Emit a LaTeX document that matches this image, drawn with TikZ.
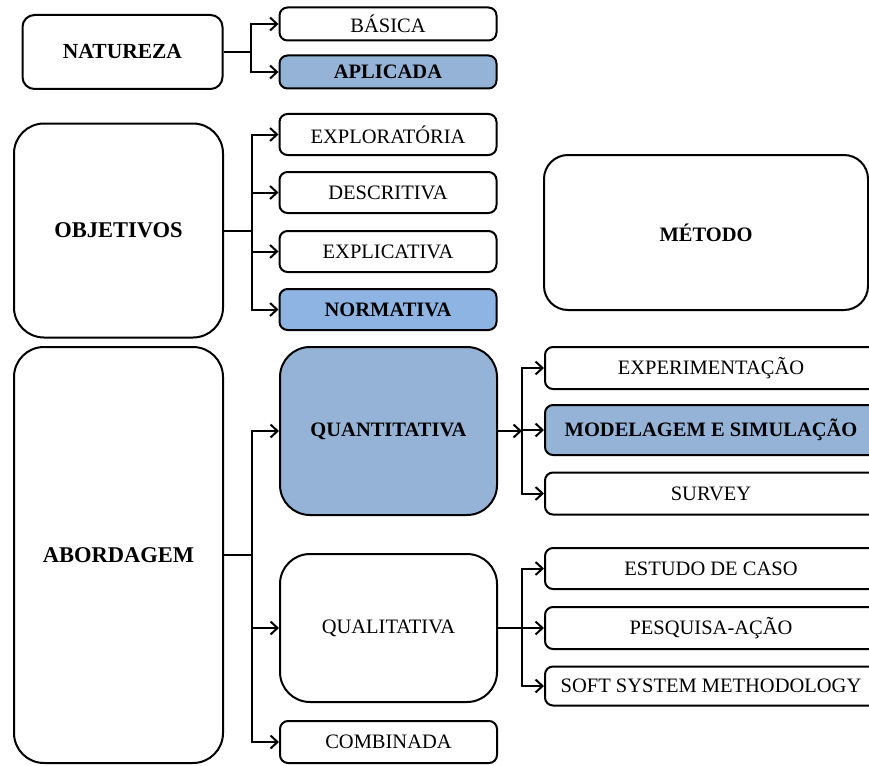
\documentclass[tikz,border=0pt]{standalone}
\usepackage{fontspec}
\setmainfont{Liberation Serif}
\usetikzlibrary{arrows.meta}
\definecolor{selblue}{RGB}{149,179,215}
\definecolor{normblue}{RGB}{141,180,226}
\tikzset{
  box/.style={draw=black, line width=2pt, rounded corners=8pt, fill=white,
    inner sep=0pt, align=center, text=black,
    font=\fontsize{20.5}{24}\selectfont},
  bigbox/.style={box, rounded corners=30pt},
  hot/.style={fill=selblue, font=\fontsize{20.5}{24}\selectfont\bfseries},
  link/.style={line width=2pt, draw=black},
  arr/.style={link, -{Straight Barb[length=7pt,width=13pt]}},
}
\begin{document}
\begin{tikzpicture}[x=1pt, y=-1pt]
\useasboundingbox (0,0) rectangle (869,765);

% Natureza
\node[box, rounded corners=12pt, minimum width=200pt, minimum height=74pt,
      font=\fontsize{21.5}{24}\selectfont\bfseries] (natureza) at (122.5,52) {NATUREZA};
\node[box, minimum width=217pt, minimum height=33pt] (basica) at (388,24) {BÁSICA};
\node[box, hot, minimum width=217pt, minimum height=33pt] (aplicada) at (388,72) {APLICADA};

% Objetivos
\node[bigbox, minimum width=209pt, minimum height=214pt,
      font=\fontsize{22.5}{24}\selectfont\bfseries] (objetivos) at (118.5,230.5) {OBJETIVOS};
\node[box, minimum width=217pt, minimum height=41pt] (explor) at (388,134.5) {EXPLORATÓRIA};
\node[box, minimum width=217pt, minimum height=41pt] (descr) at (388,192.5) {DESCRITIVA};
\node[box, minimum width=217pt, minimum height=41pt] (explic) at (388,251.5) {EXPLICATIVA};
\node[box, hot, fill=normblue, minimum width=217pt, minimum height=41pt] (normat) at (388,309.5) {NORMATIVA};

% Metodo
\node[box, rounded corners=24pt, minimum width=324pt, minimum height=155pt,
      font=\fontsize{20.5}{24}\selectfont\bfseries] (metodo) at (706,232.5) {MÉTODO};

% Abordagem
\node[bigbox, minimum width=209pt, minimum height=416pt,
      font=\fontsize{22.5}{24}\selectfont\bfseries] (abordagem) at (118.5,555) {ABORDAGEM};
\node[bigbox, hot, minimum width=217pt, minimum height=168pt] (quant) at (388.5,431) {QUANTITATIVA};
\node[bigbox, minimum width=217pt, minimum height=148pt] (qual) at (388.5,628) {QUALITATIVA};
\node[box, minimum width=217pt, minimum height=42pt] (comb) at (388.5,742) {COMBINADA};

% Quantitative methods (boxes run past the right edge)
\node[box, minimum width=340pt, minimum height=42pt] (experim) at (715,368) {};
\node[box, hot, minimum width=340pt, minimum height=50pt] (modsim) at (715,430) {};
\node[box, minimum width=340pt, minimum height=42pt] (survey) at (715,493.5) {};
\node[font=\fontsize{20.5}{24}\selectfont] at (711,368) {EXPERIMENTAÇÃO};
\node[font=\fontsize{20.5}{24}\selectfont\bfseries] at (711,430) {MODELAGEM E SIMULAÇÃO};
\node[font=\fontsize{20.5}{24}\selectfont] at (711,493.5) {SURVEY};

% Qualitative methods
\node[box, minimum width=340pt, minimum height=41pt] (estudo) at (715,568.5) {};
\node[box, minimum width=340pt, minimum height=42pt] (pesquisa) at (715,628) {};
\node[box, minimum width=340pt, minimum height=39pt] (soft) at (715,686) {};
\node[font=\fontsize{20.5}{24}\selectfont] at (711,568.5) {ESTUDO DE CASO};
\node[font=\fontsize{20.5}{24}\selectfont] at (711,628) {PESQUISA-AÇÃO};
\node[font=\fontsize{20.5}{24}\selectfont] at (711,686) {SOFT SYSTEM METHODOLOGY};

% Connectors
\coordinate (natbus) at (251,52);
\draw[link] (natureza.east) -- (natbus);
\draw[arr] (natbus) |- (basica.west);
\draw[arr] (natbus) |- (aplicada.west);

\coordinate (objbus) at (252,230.5);
\draw[link] (objetivos.east) -- (objbus);
\draw[arr] (objbus) |- (explor.west);
\draw[arr] (objbus) |- (descr.west);
\draw[arr] (objbus) |- (explic.west);
\draw[arr] (objbus) |- (normat.west);

\coordinate (abobus) at (252,555);
\draw[link] (abordagem.east) -- (abobus);
\draw[arr] (abobus) |- (quant.west);
\draw[arr] (abobus) |- (qual.west);
\draw[arr] (abobus) |- (comb.west);

\coordinate (quantbus) at (522,431);
\draw[arr] (quant.east) -- (quantbus);
\draw[arr] (quantbus) |- (experim.west);
\draw[arr] (quantbus) |- (modsim.west);
\draw[arr] (quantbus) |- (survey.west);

\coordinate (qualbus) at (522,628);
\draw[link] (qual.east) -- (qualbus);
\draw[arr] (qualbus) |- (estudo.west);
\draw[arr] (qualbus) |- (pesquisa.west);
\draw[arr] (qualbus) |- (soft.west);
\end{tikzpicture}
\end{document}
